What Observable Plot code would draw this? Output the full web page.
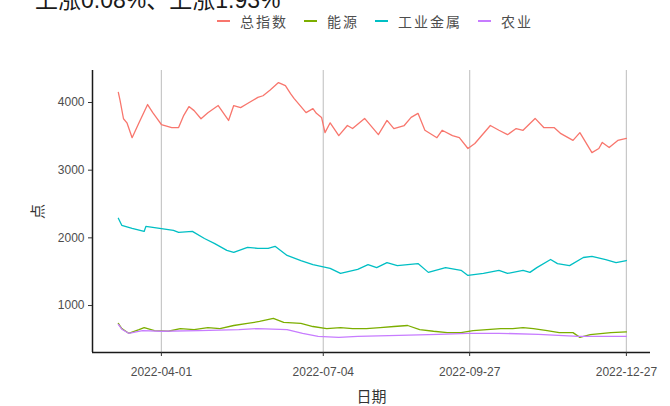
<!DOCTYPE html>
<html>
<head>
<meta charset="utf-8">
<script src="https://cdn.jsdelivr.net/npm/d3@7"></script>
<script src="https://cdn.jsdelivr.net/npm/@observablehq/plot@0.6"></script>
<style>
  body { margin: 0; background: #fff; width: 670px; height: 406px; overflow: hidden; position: relative; font-family: "Liberation Sans", Arial, sans-serif; }
  #title { position: absolute; left: 35px; top: -10px; font-size: 23px; line-height: 20px; color: #1a1a1a; font-family: "Liberation Sans", "Noto Sans CJK SC", sans-serif; white-space: nowrap; }
  #legend { position: absolute; left: 217px; top: 13px; display: flex; gap: 16px; font-size: 14px; line-height: 16px; color: #4d4d4d; font-family: "Noto Sans CJK SC", sans-serif; letter-spacing: 2px; }
  #legend .item { display: flex; align-items: center; gap: 10px; }
  #legend .sw { width: 13px; height: 2px; display: inline-block; }
  #chart { position: absolute; left: 0; top: 30px; }
</style>
</head>
<body>
<div id="title">上涨0.08%、上涨1.93%</div>
<div id="legend"></div>
<div id="chart"></div>
<script>
const seriesNames = ["总指数", "能源", "工业金属", "农业"];
const seriesColors = ["#F8766D", "#7CAE00", "#00BFC4", "#C77CFF"];
const tickDates = ["2022-04-01", "2022-07-04", "2022-09-27", "2022-12-27"];

const totalDates = ["2022-03-07","2022-03-08","2022-03-10","2022-03-12","2022-03-15","2022-03-19","2022-03-24","2022-03-27","2022-03-29","2022-04-01","2022-04-07","2022-04-11","2022-04-14","2022-04-17","2022-04-20","2022-04-24","2022-04-28","2022-05-04","2022-05-10","2022-05-13","2022-05-17","2022-05-21","2022-05-27","2022-05-30","2022-06-03","2022-06-08","2022-06-12","2022-06-15","2022-06-17","2022-06-24","2022-06-28","2022-06-30","2022-07-03","2022-07-05","2022-07-08","2022-07-13","2022-07-18","2022-07-21","2022-07-28","2022-08-05","2022-08-10","2022-08-14","2022-08-20","2022-08-24","2022-08-28","2022-09-01","2022-09-08","2022-09-11","2022-09-17","2022-09-21","2022-09-26","2022-09-30","2022-10-09","2022-10-14","2022-10-19","2022-10-24","2022-10-28","2022-11-04","2022-11-09","2022-11-15","2022-11-19","2022-11-26","2022-11-30","2022-12-07","2022-12-11","2022-12-13","2022-12-17","2022-12-22","2022-12-27"];
const totalValues = [4150,4030,3760,3700,3480,3700,3970,3850,3780,3675,3630,3630,3810,3940,3880,3760,3850,3955,3735,3955,3925,3985,4075,4100,4180,4295,4250,4130,4060,3850,3910,3840,3780,3555,3700,3510,3660,3615,3765,3525,3735,3615,3660,3780,3840,3590,3480,3590,3510,3480,3320,3395,3660,3590,3525,3615,3590,3765,3630,3630,3540,3440,3555,3260,3320,3410,3335,3440,3470];

const energyDates = ["2022-03-07","2022-03-09","2022-03-13","2022-03-19","2022-03-22","2022-03-28","2022-04-05","2022-04-12","2022-04-20","2022-04-28","2022-05-05","2022-05-13","2022-05-21","2022-05-28","2022-06-05","2022-06-11","2022-06-21","2022-06-28","2022-07-06","2022-07-14","2022-07-21","2022-07-29","2022-08-06","2022-08-14","2022-08-22","2022-08-29","2022-09-06","2022-09-14","2022-09-22","2022-09-29","2022-10-07","2022-10-15","2022-10-22","2022-10-28","2022-11-03","2022-11-11","2022-11-18","2022-11-26","2022-11-30","2022-12-06","2022-12-12","2022-12-18","2022-12-27"];
const energyValues = [735,660,590,645,675,630,620,660,645,675,660,705,735,765,810,750,735,690,660,675,660,660,675,690,705,645,620,600,600,630,645,660,660,675,660,630,600,600,530,570,585,600,610];

const metalDates = ["2022-03-07","2022-03-09","2022-03-15","2022-03-22","2022-03-23","2022-03-31","2022-04-08","2022-04-11","2022-04-19","2022-04-26","2022-05-02","2022-05-09","2022-05-13","2022-05-21","2022-05-27","2022-06-02","2022-06-06","2022-06-13","2022-06-21","2022-06-28","2022-07-08","2022-07-14","2022-07-24","2022-07-30","2022-08-04","2022-08-10","2022-08-16","2022-08-28","2022-09-03","2022-09-13","2022-09-22","2022-09-26","2022-10-05","2022-10-14","2022-10-19","2022-10-28","2022-11-01","2022-11-05","2022-11-13","2022-11-17","2022-11-24","2022-12-02","2022-12-07","2022-12-15","2022-12-21","2022-12-27"];
const metalValues = [2290,2185,2140,2095,2170,2140,2110,2080,2095,1990,1915,1815,1785,1860,1845,1845,1875,1740,1665,1605,1550,1475,1535,1605,1560,1635,1590,1620,1490,1560,1520,1445,1475,1520,1475,1520,1490,1560,1680,1620,1590,1710,1725,1680,1635,1665];

const agriDates = ["2022-03-07","2022-03-09","2022-03-13","2022-03-21","2022-04-01","2022-04-23","2022-05-16","2022-05-27","2022-06-13","2022-06-22","2022-07-01","2022-07-13","2022-07-24","2022-08-17","2022-09-09","2022-09-26","2022-10-14","2022-11-06","2022-11-29","2022-12-11","2022-12-27"];
const agriValues = [720,650,590,630,620,630,645,660,645,590,545,530,545,560,575,590,590,575,545,545,545];

const parse = d3.utcParse("%Y-%m-%d");
const rows = [];
[[totalDates, totalValues], [energyDates, energyValues], [metalDates, metalValues], [agriDates, agriValues]].forEach(([ds, vs], i) => {
  ds.forEach((d, j) => rows.push({date: parse(d), value: vs[j], series: seriesNames[i]}));
});
const ticks = tickDates.map(parse);
const xDomain = [parse("2022-02-20"), parse("2023-01-10")];
const yDomain = [306, 4473];

const legend = document.getElementById("legend");
seriesNames.forEach((n, i) => {
  const it = document.createElement("span");
  it.className = "item";
  it.innerHTML = `<span class="sw" style="background:${seriesColors[i]}"></span><span>${n}</span>`;
  legend.appendChild(it);
});

const chart = Plot.plot({
  width: 670,
  height: 376,
  marginTop: 40,
  marginLeft: 92,
  marginRight: 20,
  marginBottom: 54,
  style: {fontFamily: "Liberation Sans, Arial, sans-serif", fontSize: "12px", color: "#4d4d4d", background: "white"},
  x: {type: "utc", domain: xDomain},
  y: {domain: yDomain},
  color: {domain: seriesNames, range: seriesColors},
  marks: [
    Plot.ruleX(ticks, {stroke: "#c8c8c8", strokeWidth: 1.2}),
    Plot.line(rows, {x: "date", y: "value", z: "series", stroke: "series", strokeWidth: 1.3}),
    Plot.ruleY([yDomain[0]], {stroke: "#1a1a1a", strokeWidth: 1.5}),
    Plot.ruleX([xDomain[0]], {stroke: "#1a1a1a", strokeWidth: 1.5}),
    Plot.axisX({ticks: ticks, tickFormat: d3.utcFormat("%Y-%m-%d"), tickSize: 4, tickPadding: 11, stroke: "#333", fill: "#4d4d4d", fontSize: 12, label: "日期", labelAnchor: "center", labelArrow: "none", labelOffset: 49}),
    Plot.axisY({ticks: [1000, 2000, 3000, 4000], tickFormat: d => String(d), tickSize: 4, tickPadding: 4, stroke: "#333", fill: "#4d4d4d", fontSize: 12, label: "点", labelAnchor: "center", labelArrow: "none", labelOffset: 60})
  ]
});
chart.querySelectorAll("g[aria-label='x-axis label'] text, g[aria-label='y-axis label'] text").forEach(t => {
  t.style.fontFamily = "Noto Sans CJK SC, sans-serif";
  t.style.fontSize = "15px";
  t.setAttribute("fill", "#333");
});
document.getElementById("chart").appendChild(chart);
</script>
</body>
</html>
